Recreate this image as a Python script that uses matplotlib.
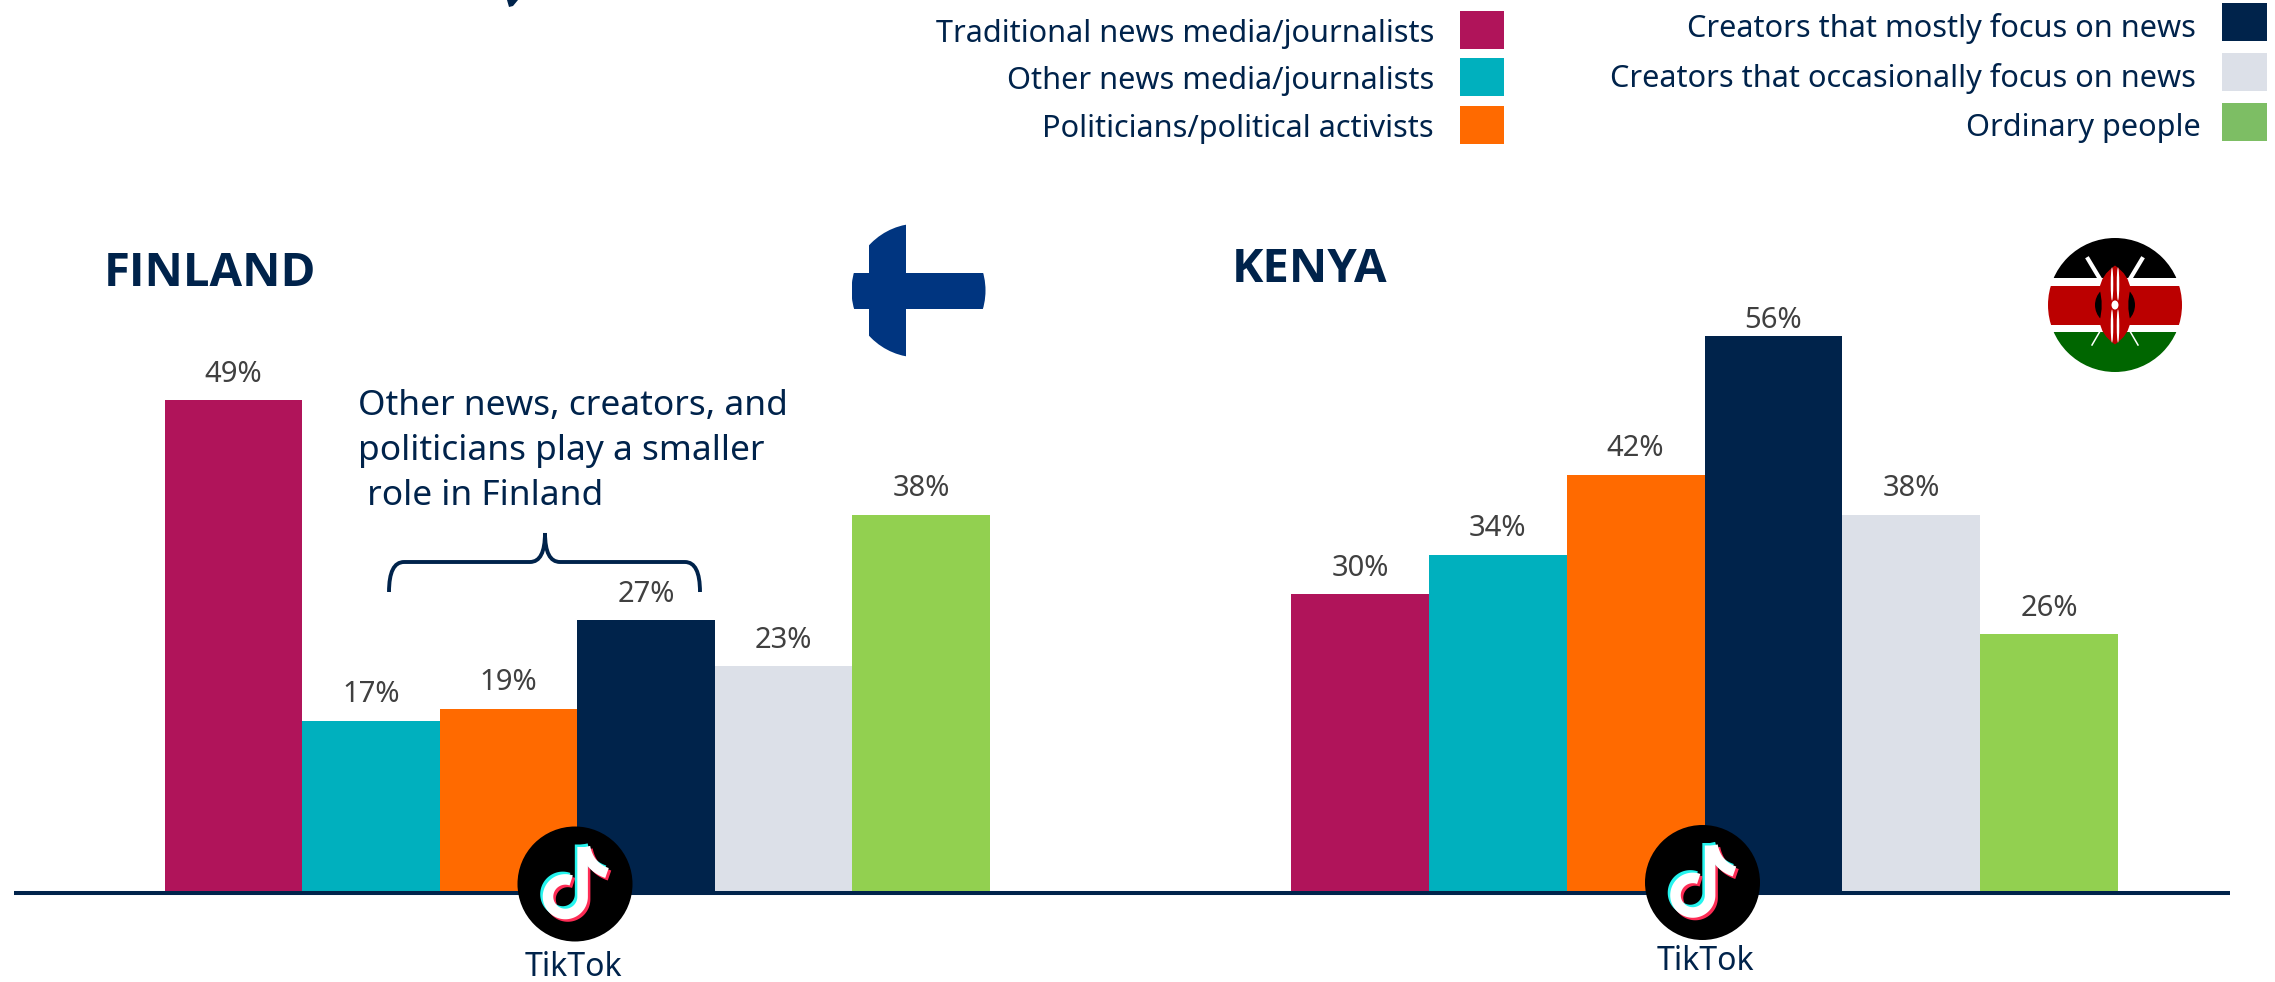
import numpy as np
import matplotlib
matplotlib.use("Agg")
import matplotlib.pyplot as plt
from matplotlib.patches import Circle, Ellipse, Rectangle, PathPatch, Polygon
from matplotlib.path import Path

plt.rcParams['font.family'] = ['Noto Sans', 'DejaVu Sans']

W, H = 2275, 982

# share of respondents
finland_values = [49.3, 17.1, 18.3, 27.2, 22.6, 37.8]
finland_labels = ['49%', '17%', '19%', '27%', '23%', '38%']
kenya_values = [29.8, 33.8, 41.8, 55.8, 37.8, 25.8]
kenya_labels = ['30%', '34%', '42%', '56%', '38%', '26%']

bar_colors = ['#B0145A', '#00B0BE', '#FF6A00', '#00234B', '#DCE0E8', '#92D050']

legend_left = ['Traditional news media/journalists', 'Other news media/journalists', 'Politicians/political activists']
legend_right = ['Creators that mostly focus on news', 'Creators that occasionally focus on news', 'Ordinary people']
legend_left_colors = ['#B0145A', '#00B0BE', '#FF6A00']
legend_right_colors = ['#00234B', '#DCE0E8', '#7DBE64']

NAVY = '#00234B'
GREY = '#404040'
PX_PER_UNIT = 9.95
BASE = 891

fig = plt.figure(figsize=(W / 100, H / 100), dpi=100, facecolor='white')


def bar_panel(x0, x1, values, labels):
    ax = fig.add_axes([x0 / W, (H - BASE) / H, (x1 - x0) / W, 60 * PX_PER_UNIT / H])
    xs = np.arange(len(values))
    ax.bar(xs, values, width=1.0, color=bar_colors)
    ax.set_xlim(-0.5, len(values) - 0.5)
    ax.set_ylim(0, 60)
    ax.axis('off')
    for x, v, lab in zip(xs, values, labels):
        # the tallest label sits closer to its bar in the original
        off = 11 if lab == '56%' else 18.8
        ax.annotate(lab, (x, v), xytext=(0, off), textcoords='offset points',
                    ha='center', va='center', fontsize=21, color=GREY)
    return ax


bar_panel(164.6, 990, finland_values, finland_labels)
bar_panel(1291, 2118, kenya_values, kenya_labels)

# overlay in pixel coordinates for legend, flags, logos and notes
ov = fig.add_axes([0, 0, 1, 1], zorder=5)
ov.set_xlim(0, W)
ov.set_ylim(H, 0)
ov.axis('off')
ov.patch.set_alpha(0)

ov.plot([14, 2230], [892.5, 892.5], color=NAVY, lw=2.9, solid_capstyle='butt', zorder=1)

# legend
for i, (lab, col) in enumerate(zip(legend_left, legend_left_colors)):
    top = [11, 58, 106][i]
    ov.add_patch(Rectangle((1460, top), 44, 38, color=col, lw=0))
    ov.text(1434, top + 23, lab, ha='right', va='center', fontsize=22.1, color=NAVY)
for i, (lab, col) in enumerate(zip(legend_right, legend_right_colors)):
    top = [3, 53, 103][i]
    ov.add_patch(Rectangle((2222, top), 45, 38, color=col, lw=0))
    ov.text(2196 if i < 2 else 2201, top + 25, lab, ha='right', va='center', fontsize=22.1, color=NAVY)

# panel titles
ov.text(104, 274, 'FINLAND', ha='left', va='center', fontsize=34, fontweight='bold',
        family=['Open Sans', 'DejaVu Sans'], color=NAVY)
ov.text(1232, 270, 'KENYA', ha='left', va='center', fontsize=34, fontweight='bold',
        family=['Open Sans', 'DejaVu Sans'], color=NAVY)

# note and brace
for y, line in zip([406, 451, 496], ['Other news, creators, and', 'politicians play a smaller', ' role in Finland']):
    ov.text(358, y, line, ha='left', va='center', fontsize=25.4, color=NAVY)

brace = Path(
    [(389, 592), (389, 562), (404, 562), (530, 562), (545, 562), (545, 533),
     (545, 562), (560, 562), (685, 562), (700, 562), (700, 592)],
    [Path.MOVETO, Path.CURVE3, Path.CURVE3, Path.LINETO, Path.CURVE3, Path.CURVE3,
     Path.CURVE3, Path.CURVE3, Path.LINETO, Path.CURVE3, Path.CURVE3])
ov.add_patch(PathPatch(brace, fc='none', ec=NAVY, lw=2.8))

# cropped title fragment at the very top
ov.add_patch(Polygon([(507, 0), (518, 0), (513, 6), (509, 7)], color=NAVY, lw=0))

# Finland flag
clip = Circle((918.5, 290.5), 67, transform=ov.transData)
for rect in [Rectangle((868.7, 224), 37.2, 134, color='#003580', lw=0),
             Rectangle((851.5, 272.7), 134, 36.3, color='#003580', lw=0)]:
    ov.add_patch(rect)
    rect.set_clip_path(clip)

# Kenya flag
cx, cy = 2115, 305
clip = Circle((cx, cy), 67, transform=ov.transData)
stripes = [(238, 40, '#000000'), (278, 7.5, '#FFFFFF'), (285.5, 39.5, '#BB0000'), (325, 7, '#FFFFFF'), (332, 41, '#006600')]
for top, h, col in stripes:
    r = Rectangle((cx - 67, top), 134, h, color=col, lw=0)
    ov.add_patch(r)
    r.set_clip_path(clip)
for sx in [-1, 1]:
    ov.plot([cx + sx * 27, cx - sx * 23], [259, 345], color='white', lw=1.1, zorder=2)
    ov.plot([cx + sx * 27, cx + sx * 15], [259, 279], color='white', lw=3, zorder=2)
ov.add_patch(Ellipse((cx, cy), 40, 40, color='black', lw=0, zorder=3))
shield = Path(
    [(cx, cy - 39.5), (cx + 14, cy - 30), (cx + 15.5, cy - 16), (cx + 11, cy), (cx + 15.5, cy + 16),
     (cx + 14, cy + 30), (cx, cy + 39.5), (cx - 14, cy + 30), (cx - 15.5, cy + 16), (cx - 11, cy),
     (cx - 15.5, cy - 16), (cx - 14, cy - 30), (cx, cy - 39.5)],
    [Path.MOVETO] + [Path.CURVE3] * 12)
ov.add_patch(PathPatch(shield, fc='#BB0000', ec='none', zorder=4))
for sx in [-1, 1]:
    for sy in [-1, 1]:
        ov.add_patch(Ellipse((cx + sx * 3, cy + sy * 21), 2.5, 33, color='white', lw=0, zorder=5))
ov.add_patch(Ellipse((cx, cy), 7, 9, color='white', lw=0, zorder=5))


def tiktok_logo(x, y):
    ov.add_patch(Circle((x, y), 57.5, color='black', lw=0, zorder=6))
    t = np.linspace(0, 1, 30)
    ang = np.radians(np.linspace(0, 290, 80))
    arc_x = -9.7 + 17.3 * np.cos(ang)
    arc_y = 12.7 + 17.3 * np.sin(ang)
    hook_x = (1 - t) ** 2 * 10 + 2 * (1 - t) * t * 14 + t ** 2 * 32
    hook_y = (1 - t) ** 2 * -37 + 2 * (1 - t) * t * -17 + t ** 2 * -11
    xs = np.r_[arc_x[::-1], 7.6, 7.6]
    ys = np.r_[arc_y[::-1], 12.7, -37]
    for off, col in [((2.5, 2.5), '#FE2C55'), ((-2.5, -2.5), '#25F4EE'), ((0, 0), 'white')]:
        ov.plot(x + xs + off[0], y + ys + off[1], color=col, lw=7.6, solid_capstyle='butt', zorder=7)
        ov.plot(x + hook_x + off[0], y + hook_y + off[1], color=col, lw=7.6, solid_capstyle='butt', zorder=7)


tiktok_logo(575, 884)
tiktok_logo(1702.5, 882.5)
ov.text(573, 968, 'TikTok', ha='center', va='center', fontsize=23, color=NAVY)
ov.text(1705.7, 962, 'TikTok', ha='center', va='center', fontsize=23, color=NAVY)

fig.savefig('out.png', dpi=100)
